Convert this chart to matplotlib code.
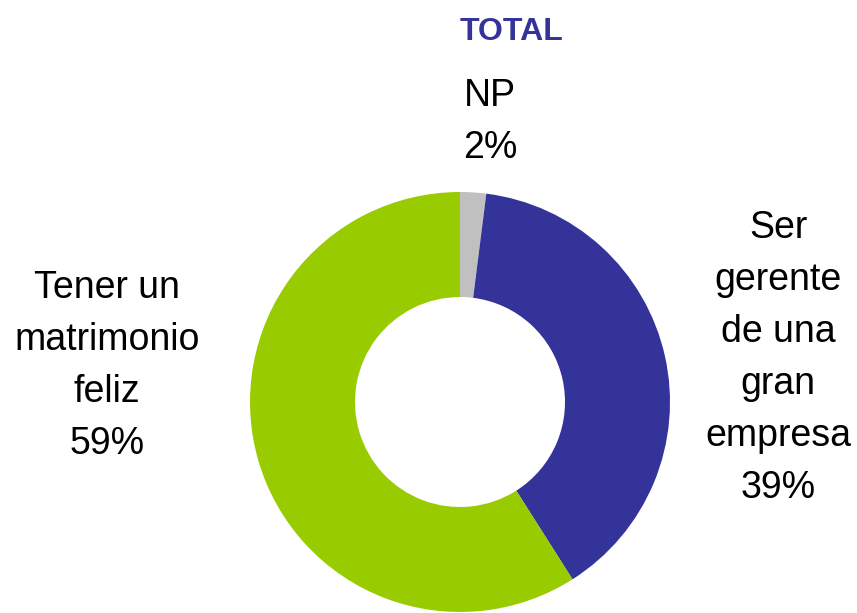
import matplotlib.pyplot as plt

plt.rcParams['font.family'] = ['Liberation Sans', 'DejaVu Sans']

# datos
categorias = ['NP', 'Ser\ngerente\nde una\ngran\nempresa', 'Tener un\nmatrimonio\nfeliz']
porcentajes = [2, 39, 59]
colores = ['#C0C0C0', '#333399', '#99CC00']

W, H = 857, 613
fig = plt.figure(figsize=(W / 100, H / 100), dpi=100)

# anillo: centro (460, 402), radio 210 px
cx, cy, r = 460, 402, 210
ax = fig.add_axes([(cx - r) / W, (H - cy - r) / H, 2 * r / W, 2 * r / H])
ax.pie(porcentajes, colors=colores, startangle=90, counterclock=False,
       radius=1.0, wedgeprops=dict(width=0.5, linewidth=0))
ax.set_xlim(-1, 1)
ax.set_ylim(-1, 1)
ax.set_aspect('equal')
ax.axis('off')

# titulo
fig.text(512 / W, 1 - 32 / H, 'TOTAL', ha='center', va='center',
         fontsize=23, fontweight='bold', color='#333399')

# etiquetas (centro de cada bloque de texto en px)
posiciones = [(490, 122), (778, 358), (107, 366)]
for cat, pct, (px, py) in zip(categorias, porcentajes, posiciones):
    fig.text(px / W, 1 - py / H, f'{cat}\n{pct}%', ha='center', va='center',
             fontsize=27, linespacing=1.57, color='black')

fig.savefig('out.png', dpi=100)
